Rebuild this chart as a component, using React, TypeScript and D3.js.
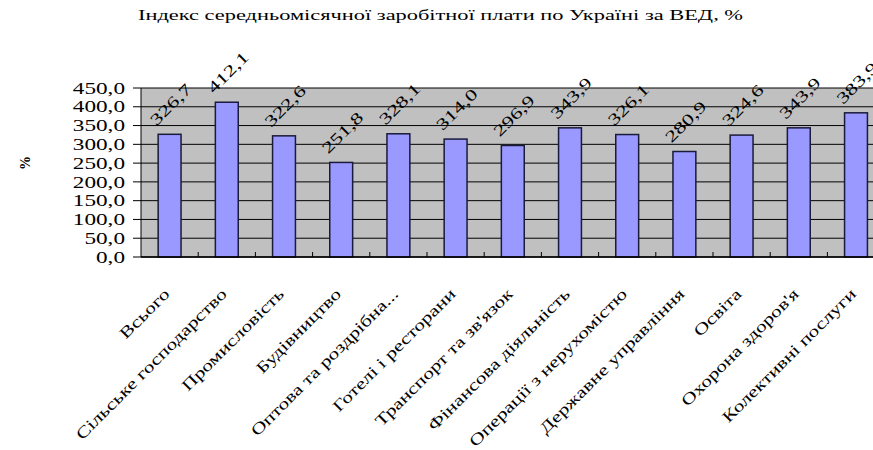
import React from "react";
import * as d3 from "d3";

const categories = [
  "Всього",
  "Сільське господарство",
  "Промисловість",
  "Будівництво",
  "Оптова та роздрібна...",
  "Готелі і ресторани",
  "Транспорт та зв'язок",
  "Фінансова діяльність",
  "Операції з нерухомістю",
  "Державне управління",
  "Освіта",
  "Охорона здоров'я",
  "Колективні послуги",
];
const values = [326.7, 412.1, 322.6, 251.8, 328.1, 314.0, 296.9, 343.9, 326.1, 280.9, 324.6, 343.9, 383.9];
const yTicks = [0, 50, 100, 150, 200, 250, 300, 350, 400, 450];
const title = "Індекс середньомісячної заробітної плати по Україні за ВЕД, %";
const yTitle = "%";

const W = 873;
const H = 450;
const plotLeft = 141;
const plotTop = 88;
const plotBottom = 257;
const catW = 57.2;
const plotRight = plotLeft + categories.length * catW;
const SX = 1.42;
const SXL = 1.34;
const FONT = "'Liberation Serif', 'DejaVu Serif', serif";

const fmt = (v: number) => v.toFixed(1).replace(".", ",");

export default function App() {
  const x = d3.scaleBand<string>().domain(categories).range([plotLeft, plotRight]).padding(0);
  const y = d3.scaleLinear().domain([0, 450]).range([plotBottom, plotTop]);
  const bw = x.bandwidth() * 0.4;
  const ts = { fontFamily: FONT } as React.CSSProperties;

  return (
    <svg
      width={W}
      height={H}
      style={{ position: "absolute", left: 0, top: 0, background: "#fff", fontFamily: FONT }}
    >
      <text
        x={138}
        y={20}
        fontSize={14}
        textLength={605}
        lengthAdjust="spacingAndGlyphs"
        fill="#000"
        style={ts}
      >
        {title}
      </text>

      <text
        transform={`translate(25,163) rotate(-90)`}
        fontSize={14}
        fontWeight="bold"
        textAnchor="middle"
        dominantBaseline="central"
        style={ts}
      >
        {yTitle}
      </text>

      <rect x={plotLeft} y={plotTop} width={plotRight - plotLeft} height={plotBottom - plotTop} fill="#c0c0c0" />

      {yTicks.map((t) => (
        <g key={t}>
          <line x1={plotLeft - 8} x2={plotRight} y1={y(t)} y2={y(t)} stroke="#000" strokeWidth={1} />
          <text
            transform={`translate(125,${y(t)}) scale(${SX + 0.03},1)`}
            fontSize={16}
            textAnchor="end"
            dominantBaseline="central"
            style={ts}
          >
            {fmt(t)}
          </text>
        </g>
      ))}

      <line x1={plotLeft} x2={plotLeft} y1={plotTop} y2={plotBottom} stroke="#000" strokeWidth={1} />

      {categories.map((c, i) => {
        const cx = (x(c) as number) + x.bandwidth() / 2;
        const top = y(values[i]);
        return (
          <g key={c}>
            <rect
              x={cx - bw / 2}
              y={top}
              width={bw}
              height={plotBottom - top}
              fill="#9999ff"
              stroke="#1a1a3a"
              strokeWidth={1.5}
            />
            <text
              transform={`translate(${cx + 1},${top - 30}) rotate(-45) scale(${SX},1)`}
              fontSize={16}
              textAnchor="middle"
              dominantBaseline="central"
              style={ts}
            >
              {fmt(values[i])}
            </text>
            <text
              transform={`translate(${cx + 1},${plotBottom + 38}) rotate(-45) scale(${SXL},1)`}
              fontSize={16}
              textAnchor="end"
              style={ts}
            >
              {c}
            </text>
          </g>
        );
      })}

      {categories.map((c, i) => {
        const bx = (x(c) as number) + x.bandwidth();
        return <line key={"t" + i} x1={bx} x2={bx} y1={plotBottom - 5} y2={plotBottom} stroke="#000" strokeWidth={1} />;
      })}

      <line x1={plotLeft} x2={plotRight} y1={plotBottom} y2={plotBottom} stroke="#000" strokeWidth={1.5} />
    </svg>
  );
}
